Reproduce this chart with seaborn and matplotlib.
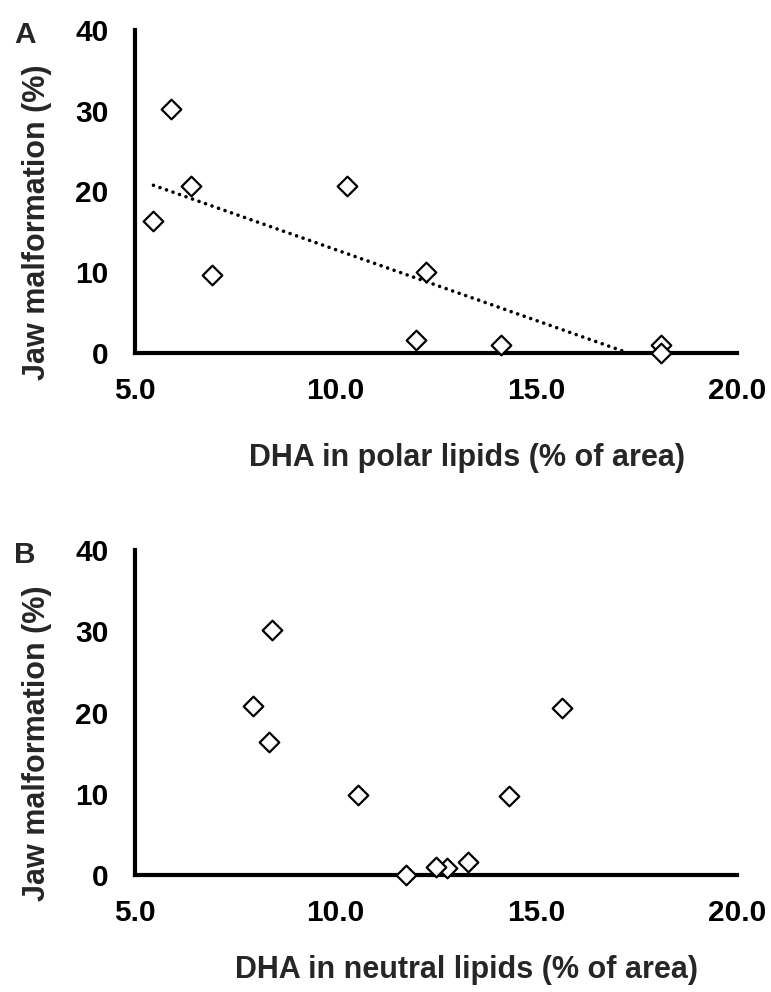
import matplotlib
matplotlib.use("Agg")
import matplotlib.pyplot as plt
import seaborn as sns
import pandas as pd

# ==========================
# DATA
# ==========================
dha_polar = [5.46, 5.89, 6.40, 6.92, 10.29, 12.26, 12.00, 14.12, 18.10, 18.10]
jaw_polar = [16.4, 30.2, 20.7, 9.7, 20.7, 10.0, 1.65, 0.95, 0.95, 0.0]

dha_neutral = [8.34, 8.42, 7.94, 14.33, 15.65, 10.56, 13.29, 12.77, 12.50, 11.75]
jaw_neutral = [16.4, 30.2, 20.8, 9.7, 20.6, 9.9, 1.65, 0.9, 1.0, 0.0]

x_ticks = [5.0, 10.0, 15.0, 20.0]
y_ticks = [0, 10, 20, 30, 40]

panels = ["A", "B"]
x_labels = ["DHA in polar lipids (% of area)", "DHA in neutral lipids (% of area)"]
y_label = "Jaw malformation (%)"

df_a = pd.DataFrame({"dha": dha_polar, "jaw": jaw_polar})
df_b = pd.DataFrame({"dha": dha_neutral, "jaw": jaw_neutral})

# ==========================
# STYLE
# ==========================
sns.set_style("white")
plt.rcParams["font.family"] = ["Liberation Sans", "DejaVu Sans"]
plt.rcParams["font.weight"] = "bold"

W, H = 771, 992
fig = plt.figure(figsize=(W / 100, H / 100), dpi=100)
ax_a = fig.add_axes([135 / W, 1 - 353 / H, 602 / W, 323 / H])
ax_b = fig.add_axes([135 / W, 1 - 875 / H, 602 / W, 325 / H])

xlabel_y = {"A": -0.28, "B": -0.245}

for ax, df, xl, letter in zip([ax_a, ax_b], [df_a, df_b], x_labels, panels):
    if letter == "A":
        # linear trend line (panel A only)
        sns.regplot(data=df, x="dha", y="jaw", ax=ax, scatter=False, ci=None,
                    line_kws=dict(color="black", lw=2.6, linestyle=(0, (0.01, 1.9)),
                                  dash_capstyle="round"))
    sns.scatterplot(data=df, x="dha", y="jaw", ax=ax, marker="D", s=100,
                    facecolor="white", edgecolor="black", linewidth=1.6,
                    zorder=5, clip_on=False)

    ax.set_xlim(5, 20)
    ax.set_ylim(0, 40)
    ax.set_xticks(x_ticks)
    ax.set_xticklabels([f"{v:.1f}" for v in x_ticks])
    ax.set_yticks(y_ticks)
    ax.set_yticklabels([str(v) for v in y_ticks])
    sns.despine(ax=ax)
    for side in ["left", "bottom"]:
        ax.spines[side].set_linewidth(3)
        ax.spines[side].set_color("black")
    ax.tick_params(axis="both", direction="out", length=5, width=3, color="black",
                   labelsize=21.5, labelcolor="black")
    ax.tick_params(axis="y", pad=14)
    ax.tick_params(axis="x", pad=12)

    ax.set_xlabel(xl, fontsize=22, fontweight="bold", va="top")
    ax.xaxis.set_label_coords(0.551, xlabel_y[letter])
    ax.set_ylabel(y_label, fontsize=22, fontweight="bold")
    ax.yaxis.set_label_coords(-0.138, 0.405)

    pos = ax.get_position()
    fig.text(25 / W, pos.y1 + 9 / H, letter, fontsize=21.5, fontweight="bold",
             ha="center", va="top")

fig.savefig("out.png", dpi=100)
